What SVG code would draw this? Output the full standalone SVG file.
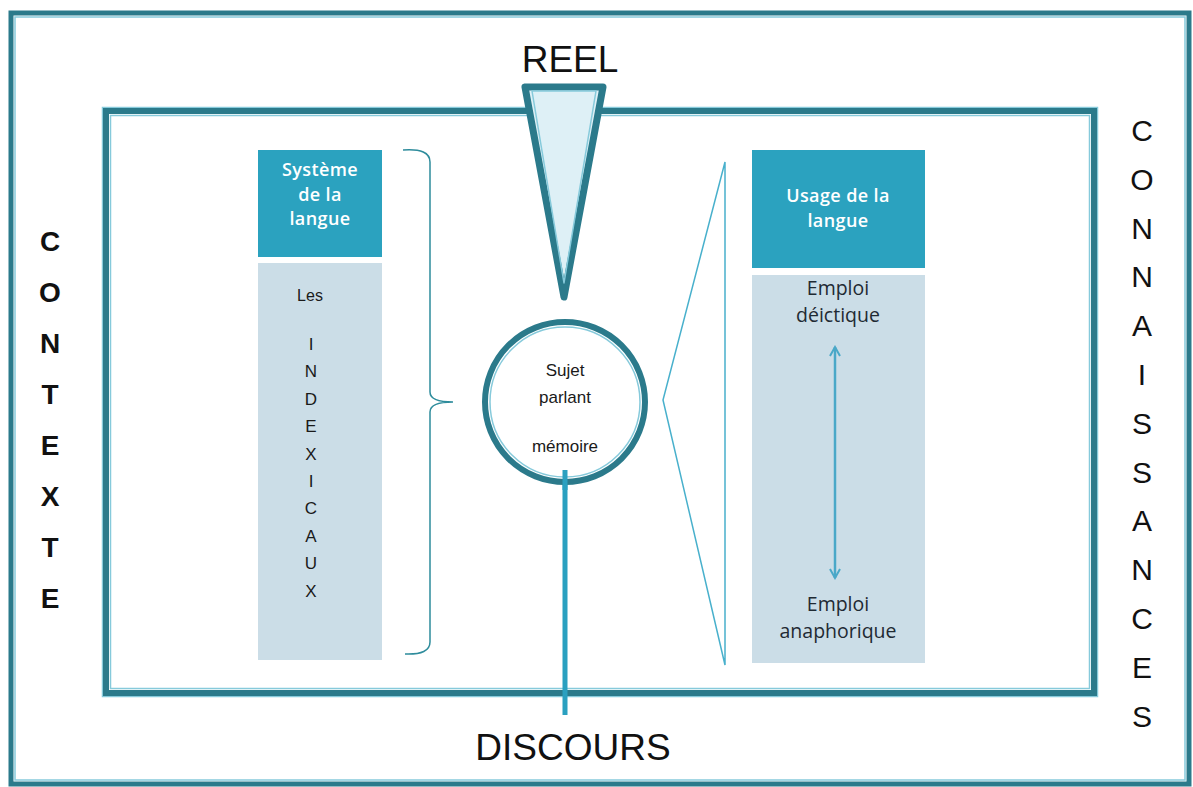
<svg xmlns="http://www.w3.org/2000/svg" width="1193" height="787" viewBox="0 0 1193 787">
<defs>
<style>
.dark{fill:none;stroke:#2b7a8b;}
.lite{fill:none;stroke:#86cadb;stroke-width:1.5;}
.hdr{fill:#2ba2bf;}
.body{fill:#cbdde7;}
.htxt{font-family:"Open Sans","Noto Sans",sans-serif;font-weight:600;font-size:18px;letter-spacing:0.4px;fill:#ffffff;text-anchor:middle;}
.btxt{font-family:"Open Sans","Noto Sans",sans-serif;font-size:19.5px;fill:#1f2a33;text-anchor:middle;}
.atxt{font-family:"Liberation Sans",Arial,sans-serif;fill:#1a1a1a;text-anchor:middle;}
.big{font-family:"Liberation Sans",Arial,sans-serif;fill:#111;text-anchor:middle;}
.thin{fill:none;stroke:#2e8c9c;stroke-width:1.5;}
</style>
<marker id="chev" viewBox="0 0 12 12" refX="10" refY="6" markerWidth="12" markerHeight="12" markerUnits="userSpaceOnUse" orient="auto-start-reverse">
<path d="M1,1 L10,6 L1,11" fill="none" stroke="#4aa8c8" stroke-width="2"/>
</marker>
</defs>
<rect width="1193" height="787" fill="#ffffff"/>

<g id="outer-frame">
<rect class="dark" x="11" y="13" width="1178" height="771" stroke-width="5"/>
<rect class="lite" x="15" y="17" width="1170" height="763"/>
</g>

<g id="inner-frame">
<rect class="lite" x="102.5" y="107.5" width="995" height="589"/>
<rect class="dark" x="106" y="111" width="988" height="582" stroke-width="6"/>
<rect class="lite" x="110.5" y="115.5" width="979" height="573"/>
</g>

<g id="contexte">
<text class="big" font-weight="bold" font-size="28" x="50"><tspan x="50" y="251">C</tspan><tspan x="50" y="302">O</tspan><tspan x="50" y="353">N</tspan><tspan x="50" y="404">T</tspan><tspan x="50" y="455">E</tspan><tspan x="50" y="506">X</tspan><tspan x="50" y="557">T</tspan><tspan x="50" y="608">E</tspan></text>
</g>

<g id="connaissances">
<text class="big" font-size="30" x="1142"><tspan x="1142" y="141">C</tspan><tspan x="1142" y="189.8">O</tspan><tspan x="1142" y="238.6">N</tspan><tspan x="1142" y="287.4">N</tspan><tspan x="1142" y="336.2">A</tspan><tspan x="1142" y="385">I</tspan><tspan x="1142" y="433.8">S</tspan><tspan x="1142" y="482.6">S</tspan><tspan x="1142" y="531.4">A</tspan><tspan x="1142" y="580.2">N</tspan><tspan x="1142" y="629">C</tspan><tspan x="1142" y="677.8">E</tspan><tspan x="1142" y="726.6">S</tspan></text>
</g>

<g id="systeme">
<rect class="hdr" x="258" y="150" width="124" height="107"/>
<text class="htxt"><tspan x="320" y="176">Système</tspan><tspan x="320" y="200.5">de la</tspan><tspan x="320" y="225">langue</tspan></text>
</g>

<g id="indexicaux">
<rect class="body" x="258" y="263" width="124" height="397"/>
<text class="atxt" font-size="16" x="310" y="301">Les</text>
<text class="atxt" font-size="17"><tspan x="311" y="350">I</tspan><tspan x="311" y="377.4">N</tspan><tspan x="311" y="404.8">D</tspan><tspan x="311" y="432.2">E</tspan><tspan x="311" y="459.6">X</tspan><tspan x="311" y="487">I</tspan><tspan x="311" y="514.4">C</tspan><tspan x="311" y="541.8">A</tspan><tspan x="311" y="569.2">U</tspan><tspan x="311" y="596.6">X</tspan></text>
</g>

<g id="usage">
<rect class="hdr" x="752" y="150" width="173" height="118"/>
<text class="htxt"><tspan x="838" y="202">Usage de la</tspan><tspan x="838" y="226.5">langue</tspan></text>
</g>

<g id="emplois">
<rect class="body" x="752" y="275" width="173" height="388"/>
<text class="btxt"><tspan x="838" y="295">Emploi</tspan><tspan x="838" y="322">déictique</tspan></text>
<text class="btxt"><tspan x="838" y="611">Emploi</tspan><tspan x="838" y="638">anaphorique</tspan></text>
</g>

<g id="connectors">
<path class="thin" d="M403,150 Q430,148 430,162 L430,392 Q430,402 453,402 Q430,402 430,412 L430,642 Q430,655 405,654"/>
<polygon points="725,162 663,400 725,665" fill="none" stroke="#48b0cc" stroke-width="1.5"/>
<line x1="835" y1="347" x2="835" y2="578" stroke="#4aa8c8" stroke-width="2.5" marker-start="url(#chev)" marker-end="url(#chev)"/>
<line x1="565" y1="470" x2="565" y2="715" stroke="#2aa0c0" stroke-width="5"/>
</g>

<g id="reel">
<polygon points="525,87 603,87 564,297" fill="#def0f6" stroke="#2b7a8b" stroke-width="7" stroke-linejoin="round"/>
<polygon points="532,91 596,91 564,283" fill="none" stroke="#86cadb" stroke-width="1.5" stroke-linejoin="round"/>
<text class="big" font-size="37" x="570" y="72">REEL</text>
</g>

<g id="sujet">
<circle cx="565" cy="402" r="80" fill="#ffffff" stroke="#2b7a8b" stroke-width="6"/>
<circle cx="565" cy="402" r="75" fill="none" stroke="#86cadb" stroke-width="1.5"/>
<text class="atxt" font-size="17"><tspan x="565" y="376">Sujet</tspan><tspan x="565" y="403">parlant</tspan><tspan x="565" y="452">mémoire</tspan></text>
<line x1="565" y1="470" x2="565" y2="490" stroke="#2aa0c0" stroke-width="5"/>
</g>

<g id="discours">
<text class="big" font-size="37" x="573" y="760">DISCOURS</text>
</g>
</svg>
